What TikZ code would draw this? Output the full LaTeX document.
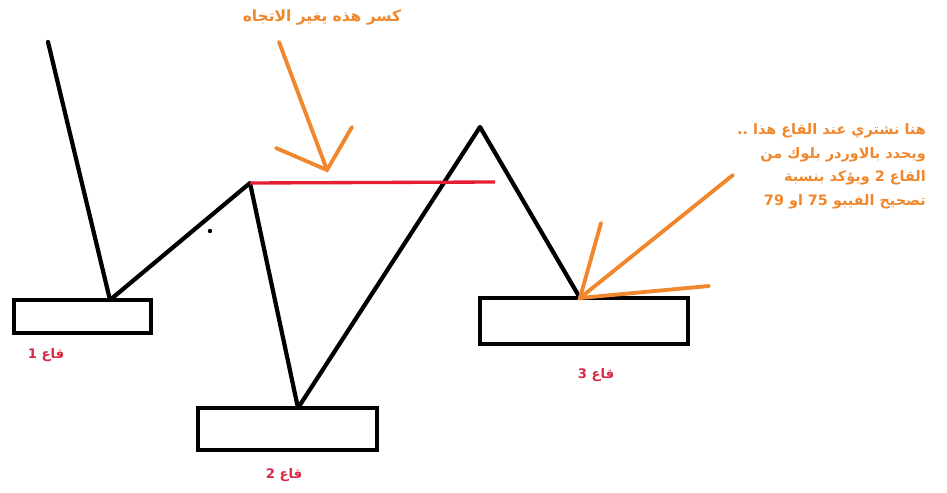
\documentclass[tikz,border=0pt]{standalone}
\usepackage{fontspec}
\usepackage{tikz}
\usetikzlibrary{positioning}
\TeXXeTstate=1
\newfontfamily\arabicfont[Script=Arabic]{DejaVu Sans}
\definecolor{swingorange}{RGB}{240,135,45}
\definecolor{labelred}{RGB}{215,40,70}
\definecolor{breakred}{RGB}{230,30,50}
\tikzstyle{leg}=[line width=2.4pt,line cap=round,line join=round]
\tikzstyle{zone}=[draw,line width=2.4pt,minimum height=0pt,inner sep=0pt]
\tikzstyle{pointer}=[draw=swingorange,line width=2.2pt,line cap=round]
\tikzstyle{lowlabel}=[text=labelred,font=\arabicfont\bfseries\fontsize{7.5}{9}\selectfont]
\tikzstyle{note}=[text=swingorange,font=\arabicfont\bfseries\fontsize{8.8}{13.6}\selectfont]

\begin{document}
\begin{tikzpicture}[x=0.02cm,y=-0.02cm]
    \useasboundingbox (0,0) rectangle (947,493);
    % swing points
    \coordinate (start) at (48,42);
    \coordinate (low1) at (110,300);
    \coordinate (high1) at (250,183);
    \coordinate (low2) at (298,408);
    \coordinate (high2) at (480,127);
    \coordinate (low3) at (580,298);
    % zones under the lows
    \draw[zone] (14,300) rectangle (151,333);
    \draw[zone] (198,408) rectangle (377,450);
    \draw[zone] (480,298) rectangle (688,344);
    \node[lowlabel] (lab1) at (46,355) {\beginR قاع 1\endR};
    \node[lowlabel] (lab2) at (284,475) {\beginR قاع 2\endR};
    \node[lowlabel] (lab3) at (596,375) {\beginR قاع 3\endR};
    % price path
    \draw[leg] (start) -- (low1) -- (high1) -- (low2) -- (high2) -- (low3);
    \fill (210,231) circle (2.2);
    % break level
    \coordinate (brk) at (495,182);
    \draw[breakred,line width=1.9pt] (high1) -- (brk);
    % arrow to the break level
    \coordinate (tip1) at (327,170);
    \draw[pointer] (279,42) -- (tip1);
    \draw[pointer] (276,148) -- (tip1) -- (352,127);
    \node[note] (top) at (322,18) {\beginR كسر هذه يغير الاتجاه\endR};
    % arrow to low 3
    \draw[pointer] (733,175) -- (low3);
    \draw[pointer] (601,223) -- (low3) -- (709,286);
    \node[note,font=\arabicfont\bfseries\fontsize{8.2}{13.6}\selectfont,
          align=right,anchor=north east] (buy) at (932,117)
        {\beginR هنا نشتري عند القاع هذا ..\endR\\
         \beginR ويحدد بالاوردر بلوك من\endR\\
         \beginR القاع 2 ويؤكد بنسبة\endR\\
         \beginR تصحيح الفيبو 75 او 79\endR};
\end{tikzpicture}
\end{document}
